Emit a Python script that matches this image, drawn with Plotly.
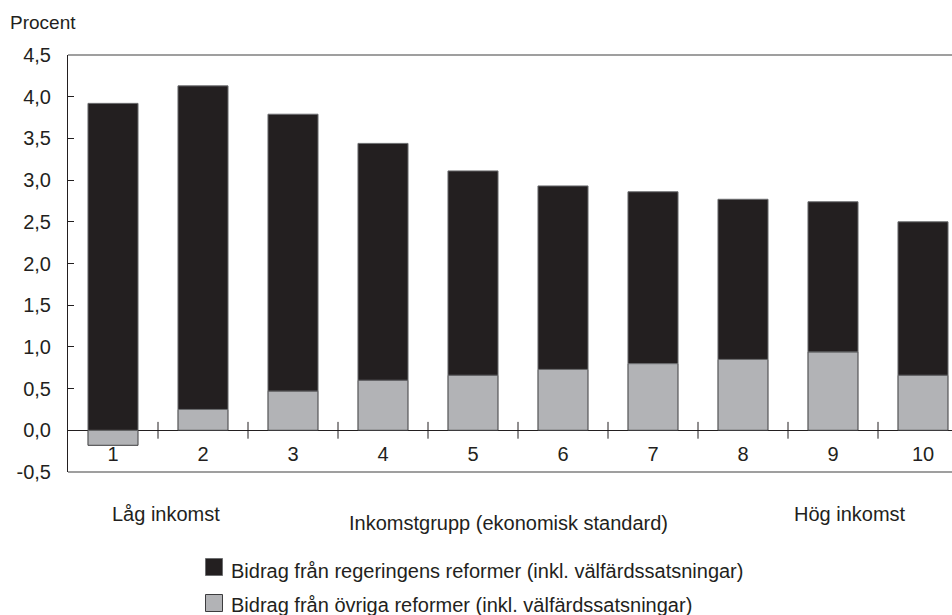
import plotly.graph_objects as go

# Inkomstgrupper (decilgrupper efter ekonomisk standard)
groups = ["1", "2", "3", "4", "5", "6", "7", "8", "9", "10"]
# Bidrag från regeringens reformer, procent
regering = [3.92, 3.88, 3.32, 2.84, 2.45, 2.20, 2.06, 1.92, 1.80, 1.84]
# Bidrag från övriga reformer, procent
ovriga = [-0.18, 0.25, 0.47, 0.60, 0.66, 0.73, 0.80, 0.85, 0.94, 0.66]

y_ticks = [-0.5, 0.0, 0.5, 1.0, 1.5, 2.0, 2.5, 3.0, 3.5, 4.0, 4.5]
y_ticktext = ["-0,5", "0,0", "0,5", "1,0", "1,5", "2,0", "2,5", "3,0", "3,5", "4,0", "4,5"]

legend_names = [
    "Bidrag från regeringens reformer (inkl. välfärdssatsningar)",
    "Bidrag från övriga reformer (inkl. välfärdssatsningar)",
]

FONT = "Liberation Sans, Arial, sans-serif"
INK = "#231f20"
BLACK_BAR = "#231f20"
GRAY_BAR = "#b2b3b6"

W, H = 952, 615
ML, MR, MT, MB = 68, 0, 55, 143
plot_w = W - ML - MR
plot_h = H - MT - MB
cat_px = 90.0  # pixel width of one category slot
x_idx = list(range(len(groups)))
x_range = [-0.5, -0.5 + plot_w / cat_px]
y_range = [y_ticks[0], y_ticks[-1]]
zero_frac = (0 - y_range[0]) / (y_range[1] - y_range[0])


def px_x(px):
    return (px - ML) / plot_w


def px_y(py):
    return (H - MB - py) / plot_h


fig = go.Figure()

fig.add_trace(go.Bar(
    x=x_idx, y=ovriga, name=legend_names[1],
    marker=dict(color=GRAY_BAR, line=dict(color="#3c3c3e", width=1)),
    showlegend=False,
))
fig.add_trace(go.Bar(
    x=x_idx, y=regering, name=legend_names[0],
    marker=dict(color=BLACK_BAR, line=dict(color="#6d6e70", width=1)),
    showlegend=False,
))

# category boundary ticks crossing the zero line
boundaries = [i + 0.5 for i in x_idx[:-1]]
fig.add_trace(go.Scatter(
    x=boundaries, y=[0] * len(boundaries), mode="markers",
    marker=dict(symbol="line-ns-open", size=12, color=INK, line=dict(color=INK, width=1)),
    hoverinfo="skip", showlegend=False, cliponaxis=False,
))

fig.update_layout(
    width=W, height=H,
    margin=dict(l=ML, r=MR, t=MT, b=MB, pad=0),
    paper_bgcolor="white", plot_bgcolor="white",
    barmode="relative", bargap=0.444,
    font=dict(family=FONT, size=20, color=INK),
    showlegend=False,
    xaxis=dict(
        range=x_range, tickmode="array", tickvals=x_idx, ticktext=groups,
        anchor="free", position=zero_frac, showline=False, ticks="",
        showgrid=False, zeroline=False, ticklabelstandoff=10,
        tickfont=dict(size=20, color=INK),
    ),
    yaxis=dict(
        range=y_range, tickmode="array", tickvals=y_ticks, ticktext=y_ticktext,
        ticks="inside", ticklen=6, tickcolor=INK, tickwidth=1,
        showline=True, linecolor=INK, linewidth=1,
        showgrid=False, zeroline=True, zerolinecolor=INK, zerolinewidth=1,
        ticklabelstandoff=12, tickfont=dict(size=20, color=INK),
    ),
)

# frame lines at top and bottom of the plot area
for yy in (0, 1):
    fig.add_shape(type="line", xref="paper", yref="paper", x0=0, x1=1, y0=yy, y1=yy,
                  line=dict(color="#7f7f7f", width=1.5))

annotations = [
    dict(text="Procent", x=px_x(8), y=px_y(22), xanchor="left", yanchor="middle", size=19),
    dict(text="Låg inkomst", x=px_x(110), y=px_y(514), xanchor="left", yanchor="middle", size=20),
    dict(text="Inkomstgrupp (ekonomisk standard)", x=px_x(508), y=px_y(523),
         xanchor="center", yanchor="middle", size=20),
    dict(text="Hög inkomst", x=px_x(850), y=px_y(514), xanchor="center", yanchor="middle", size=20),
]
for a in annotations:
    fig.add_annotation(text=a["text"], x=a["x"], y=a["y"], xref="paper", yref="paper",
                       xanchor=a["xanchor"], yanchor=a["yanchor"], showarrow=False,
                       font=dict(family=FONT, size=a["size"], color=INK))

# legend: swatches and labels below the chart
legend_rows = [(legend_names[0], BLACK_BAR, "#6d6e70", 567, 571), (legend_names[1], GRAY_BAR, "#3c3c3e", 603, 605)]
for name, fill, edge, cy, ty in legend_rows:
    fig.add_shape(type="rect", xref="paper", yref="paper",
                  x0=px_x(205.5), x1=px_x(222.5), y0=px_y(cy - 8.5), y1=px_y(cy + 8.5),
                  fillcolor=fill, line=dict(color=edge, width=1))
    fig.add_annotation(text=name, x=px_x(229), y=px_y(ty), xref="paper", yref="paper",
                       xanchor="left", yanchor="middle", showarrow=False,
                       font=dict(family=FONT, size=20, color=INK))

fig.write_html("out.html")
